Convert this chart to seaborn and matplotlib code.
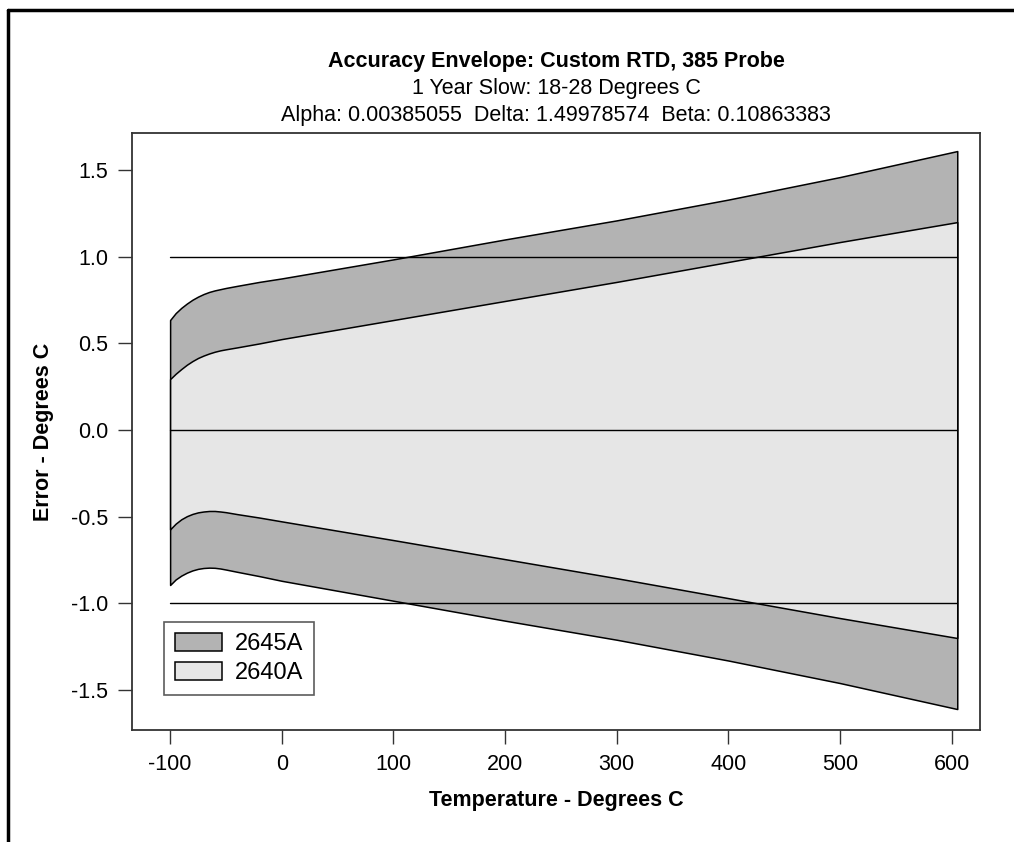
import numpy as np
import pandas as pd
import matplotlib
matplotlib.use("Agg")
import matplotlib.pyplot as plt
from matplotlib.lines import Line2D
import seaborn as sns

# temperature points (deg C) and envelope limits
temps = [-100, -95, -90, -85, -80, -75, -70, -65, -60, -55, -50, -40, -20, 0,
         100, 200, 300, 400, 500, 605]
upper_2645 = [0.635, 0.675, 0.705, 0.73, 0.752, 0.77, 0.785, 0.797, 0.806, 0.813,
              0.82, 0.832, 0.855, 0.875, 0.985, 1.10, 1.21, 1.33, 1.46, 1.61]
upper_2640 = [0.294, 0.325, 0.352, 0.377, 0.398, 0.416, 0.43, 0.442, 0.452, 0.46,
              0.466, 0.477, 0.50, 0.525, 0.635, 0.745, 0.855, 0.97, 1.085, 1.20]
lower_2640 = [-0.573, -0.54, -0.515, -0.497, -0.484, -0.475, -0.47, -0.467, -0.467, -0.47,
              -0.474, -0.485, -0.505, -0.527, -0.635, -0.745, -0.855, -0.97, -1.085, -1.20]
lower_2645 = [-0.894, -0.862, -0.84, -0.823, -0.81, -0.801, -0.796, -0.794, -0.795, -0.799,
              -0.805, -0.818, -0.843, -0.87, -0.985, -1.10, -1.21, -1.33, -1.46, -1.61]

ref_levels = [1.0, 0.0, -1.0]
ref_span = [-100, 605]

series_names = ["2645A", "2640A"]
series_colors = ["#b3b3b3", "#e6e6e6"]

xticks = [-100, 0, 100, 200, 300, 400, 500, 600]
yticks = [-1.5, -1.0, -0.5, 0.0, 0.5, 1.0, 1.5]

sns.set_style("white")
plt.rcParams["font.family"] = ["Liberation Sans", "DejaVu Sans"]
plt.rcParams["text.color"] = "black"
plt.rcParams["axes.labelcolor"] = "black"
plt.rcParams["xtick.color"] = "black"
plt.rcParams["ytick.color"] = "black"

fig = plt.figure(figsize=(10.14, 8.42), dpi=100)
ax = fig.add_axes([0.130, 0.133, 0.8365, 0.709])

df = pd.DataFrame({"temp": temps, "up45": upper_2645, "up40": upper_2640,
                   "lo40": lower_2640, "lo45": lower_2645})

ax.fill_between(df["temp"], df["lo45"], df["up45"], facecolor=series_colors[0],
                edgecolor="black", linewidth=1.1, label=series_names[0], zorder=1)
ax.fill_between(df["temp"], df["lo40"], df["up40"], facecolor=series_colors[1],
                edgecolor="black", linewidth=1.1, label=series_names[1], zorder=2)

for lvl in ref_levels:
    ref = pd.DataFrame({"x": ref_span, "y": [lvl, lvl]})
    sns.lineplot(data=ref, x="x", y="y", color="black", linewidth=1.0, ax=ax, zorder=3)

ax.set_xlim(-134.3, 625.4)
ax.set_ylim(-1.731, 1.714)
ax.set_xticks(xticks)
ax.set_xticklabels([str(t) for t in xticks])
ax.set_yticks(yticks)
ax.set_yticklabels([f"{t:.1f}" for t in yticks])
ax.tick_params(axis="both", direction="out", length=10, width=1.0, color="#333333",
               labelcolor="black", labelsize=15.5, pad=7, bottom=True, left=True)
for sp in ax.spines.values():
    sp.set_color("#333333")
    sp.set_linewidth(1.3)

ax.set_xlabel("Temperature - Degrees C", fontsize=15.5, fontweight="bold", labelpad=11)
ax.set_ylabel("Error - Degrees C", fontsize=15.5, fontweight="bold", labelpad=12)

leg = ax.legend(loc="lower left", bbox_to_anchor=(0.038, 0.059), fontsize=17,
                frameon=True, fancybox=False, shadow=False, handlelength=2.0,
                handleheight=0.8, borderpad=0.45, labelspacing=0.3,
                handletextpad=0.55, borderaxespad=0)
leg.get_frame().set_edgecolor("#333333")
leg.get_frame().set_linewidth(1.2)

cx = 556 / 1014
fig.text(cx, 1 - 67 / 842, "Accuracy Envelope: Custom RTD, 385 Probe", ha="center",
         va="baseline", fontsize=15.5, fontweight="bold")
fig.text(cx, 1 - 94 / 842, "1 Year Slow: 18-28 Degrees C", ha="center",
         va="baseline", fontsize=15.5)
fig.text(cx, 1 - 121 / 842, "Alpha: 0.00385055  Delta: 1.49978574  Beta: 0.10863383",
         ha="center", va="baseline", fontsize=15.5)

# outer frame (top and left edges)
fig.add_artist(Line2D([8 / 1014, 1.0], [1 - 10 / 842, 1 - 10 / 842],
                      transform=fig.transFigure, color="black", linewidth=2.5))
fig.add_artist(Line2D([8 / 1014, 8 / 1014], [1 - 10 / 842, 0.0],
                      transform=fig.transFigure, color="black", linewidth=2.5))

fig.savefig("out.png", dpi=100, facecolor="white")
